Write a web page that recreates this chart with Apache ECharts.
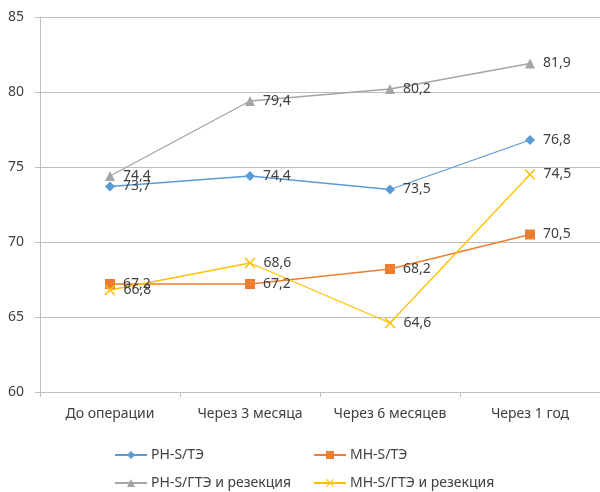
<!DOCTYPE html>
<html>
<head>
<meta charset="utf-8">
<script src="https://cdn.jsdelivr.net/npm/echarts@6/dist/echarts.min.js"></script>
<style>
    html, body { margin: 0; padding: 0; background: #fff; }
    #chart { width: 600px; height: 492px; }
</style>
</head>
<body>
<div id="chart"></div>
<script>
// категории и ряды
var categories = ["До операции", "Через 3 месяца", "Через 6 месяцев", "Через 1 год"];
var seriesNames = ["РН-S/ТЭ", "МН-S/ТЭ", "РН-S/ГТЭ и резекция", "МН-S/ГТЭ и резекция"];
var rhTe = [73.7, 74.4, 73.5, 76.8];
var mhTe = [67.2, 67.2, 68.2, 70.5];
var rhGte = [74.4, 79.4, 80.2, 81.9];
var mhGte = [66.8, 68.6, 64.6, 74.5];

var fontName = "Noto Sans";
var crossPath = "path://M0,1L1,0L5,4L9,0L10,1L6,5L10,9L9,10L5,6L1,10L0,9L4,5Z";

function makeSeries(name, data, color, symbol, size) {
    return {
        name: name,
        type: "line",
        data: data,
        symbol: symbol,
        symbolSize: size,
        lineStyle: {color: color, width: 1.3},
        itemStyle: {color: color},
        label: {
            show: true,
            position: "right",
            distance: 8,
            fontFamily: fontName,
            fontSize: 14,
            color: "#404040",
            formatter: function (p) {
                return String(p.value).replace(".", ",");
            }
        },
        emphasis: {disabled: true}
    };
}

function makeLegend(name, left, top) {
    return {
        data: [name],
        left: left,
        top: top,
        itemWidth: 32,
        itemHeight: 10,
        itemGap: 0,
        textStyle: {fontFamily: fontName, fontSize: 14, color: "#404040", padding: [0, 0, 0, -1]}
    };
}

var chart = echarts.init(document.getElementById("chart"));

var option = {
    animation: false,
    grid: {left: 40, top: 17, width: 563, height: 375, containLabel: false},
    legend: [
        makeLegend(seriesNames[0], 109, 443),
        makeLegend(seriesNames[1], 308, 443),
        makeLegend(seriesNames[2], 109, 471),
        makeLegend(seriesNames[3], 308, 471)
    ],
    xAxis: {
        type: "category",
        data: categories,
        boundaryGap: true,
        axisLine: {lineStyle: {color: "#bfbfbf", width: 1}},
        axisTick: {show: true, length: 5, lineStyle: {color: "#bfbfbf"}},
        axisLabel: {interval: 0, margin: 15, fontFamily: fontName, fontSize: 14, color: "#404040"}
    },
    yAxis: {
        type: "value",
        min: 60,
        max: 85,
        interval: 5,
        axisLine: {show: true, lineStyle: {color: "#bfbfbf", width: 1}},
        axisTick: {show: true, length: 5, lineStyle: {color: "#bfbfbf"}},
        axisLabel: {margin: 16, fontFamily: fontName, fontSize: 14, color: "#404040"},
        splitLine: {lineStyle: {color: "#bfbfbf", width: 1}}
    },
    series: [
        makeSeries(seriesNames[0], rhTe, "#5b9bd5", "diamond", 10),
        makeSeries(seriesNames[1], mhTe, "#ed7d31", "rect", 10),
        makeSeries(seriesNames[2], rhGte, "#a5a5a5", "triangle", 10),
        makeSeries(seriesNames[3], mhGte, "#ffc000", crossPath, 11)
    ]
};

chart.setOption(option);
</script>
</body>
</html>
